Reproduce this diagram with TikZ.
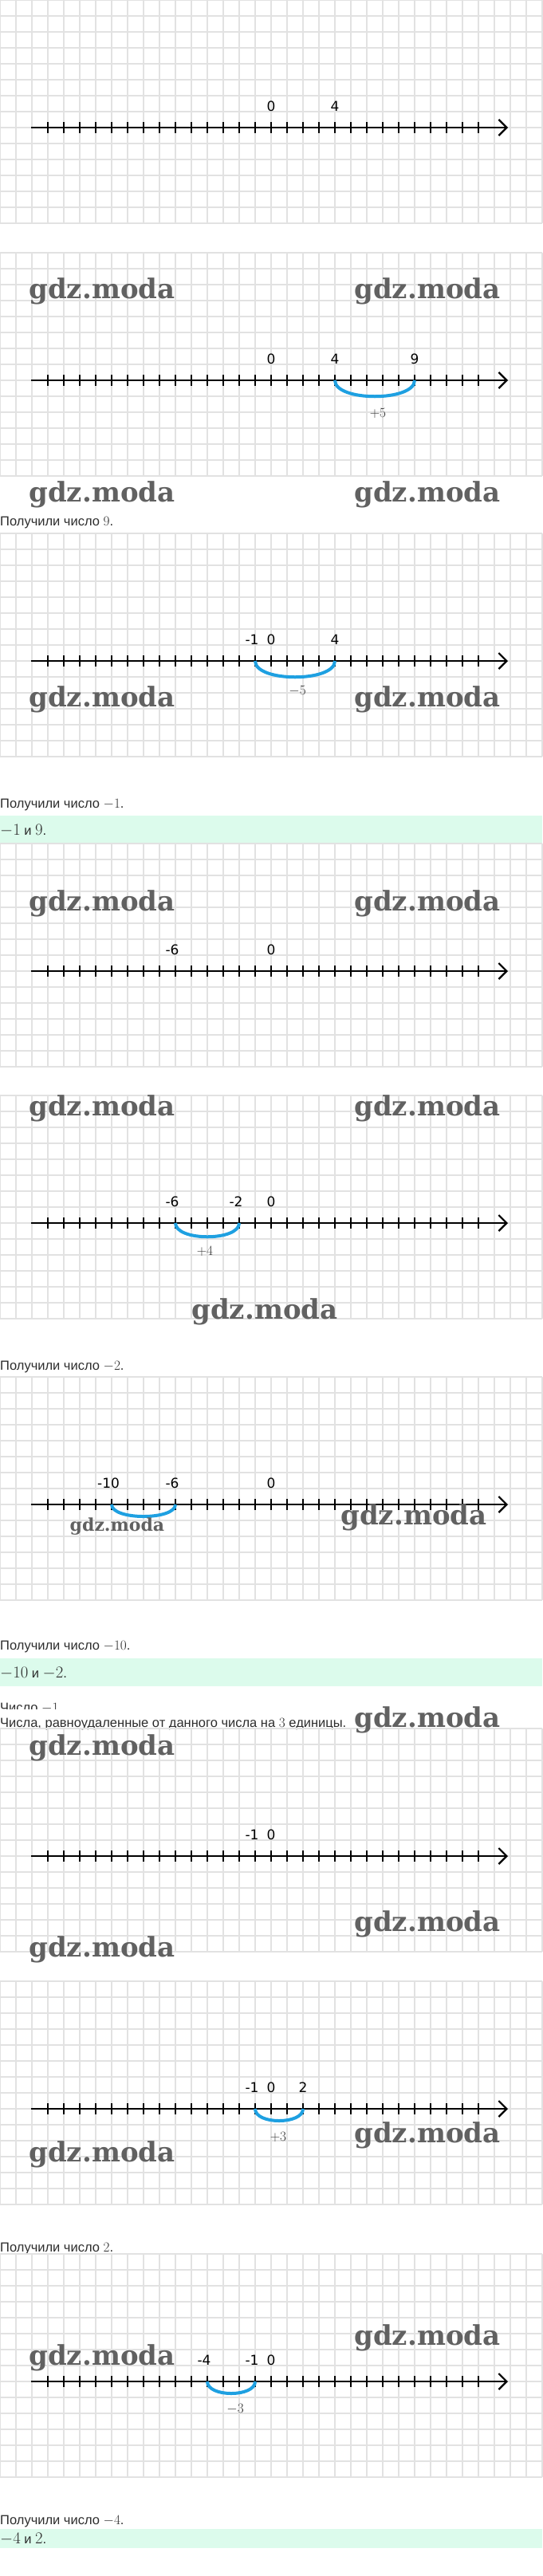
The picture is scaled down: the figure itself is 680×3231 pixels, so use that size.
\documentclass[tikz,border=0pt]{standalone}
\usepackage{fontspec}
\usetikzlibrary{arrows.meta}
\newfontfamily\rufont{Liberation Sans}
\newfontfamily\digfont{DejaVu Sans}
\newfontfamily\wmfont{DejaVu Serif}
\definecolor{grid-gray}{RGB}{226,226,226}
\definecolor{jump-blue}{RGB}{30,160,225}
\definecolor{answer-green}{RGB}{220,251,236}
\definecolor{text-gray}{RGB}{45,45,45}
\newcommand{\mnum}[1]{{\fontsize{19}{19}\selectfont$#1$}}
\newcommand{\bnum}[1]{{\fontsize{22}{22}\selectfont$#1$}}
\tikzset{
  gridline/.style={draw=grid-gray, line width=1.3pt},
  axisline/.style={line width=2.6pt, -{Straight Barb[length=10pt,width=20pt,line width=2.2pt]}},
  tickmark/.style={line width=2.2pt},
  numlabel/.style={inner sep=0pt, font=\digfont\fontsize{17}{17}\selectfont},
  neglabel/.style={numlabel, xshift=-4pt},
  jump/.style={draw=jump-blue, line width=4pt},
  steplabel/.style={inner sep=0pt, text=black!78, font=\fontsize{19}{19}\selectfont},
  infotext/.style={anchor=base west, inner sep=0pt, text=text-gray, font=\rufont\fontsize{16.5}{16.5}\selectfont},
  answerband/.style={fill=answer-green, draw=none},
  watermark/.style={inner sep=0pt, text=black!62, font=\wmfont\bfseries\fontsize{34}{34}\selectfont},
  panel/.style={shift={(340,#1)}, x=20pt}
}
% grid, axis and ticks of one panel (local units: x = one tick, y = 1pt down)
\newcommand{\numgrid}{%
  \foreach \k in {-17,...,17} \draw[gridline] (\k,-160) -- (\k,120);
  \foreach \k in {-8,...,6} \draw[gridline] (-17,20*\k) -- (17,20*\k);
  \draw[axisline] (-15.05,0) -- (14.85,0);
  \foreach \n in {-14,...,13} \draw[tickmark] (\n,-7) -- (\n,7);
}
\begin{document}
\begin{tikzpicture}[x=1pt, y=-1pt]
  \useasboundingbox (0,0) rectangle (680,3231);

  % 0 + 4
  \begin{scope}[panel=160]
    \numgrid
    \node[numlabel] (a0) at (0,-27) {0};
    \node[numlabel] (a4) at (4,-27) {4};
  \end{scope}

  % 4 + 5
  \begin{scope}[panel=477]
    \numgrid
    \node[numlabel] (b0) at (0,-27) {0};
    \node[numlabel] (b4) at (4,-27) {4};
    \node[numlabel] (b9) at (9,-27) {9};
    \coordinate (bs) at (4,0);
    \coordinate (be) at (9,0);
    \draw[jump] (bs) .. controls +(0,27) and +(0,27) .. (be);
    \node[steplabel] (bstep) at (6.7,41) {$+5$};
  \end{scope}
  \node[infotext] (got9) at (0,659) {Получили число \mnum{9}.};

  % 4 - 5
  \begin{scope}[panel=829]
    \numgrid
    \node[neglabel] (cm1) at (-1,-27) {-1};
    \node[numlabel] (c0) at (0,-27) {0};
    \node[numlabel] (c4) at (4,-27) {4};
    \coordinate (cs) at (-1,0);
    \coordinate (ce) at (4,0);
    \draw[jump] (cs) .. controls +(0,27) and +(0,27) .. (ce);
    \node[steplabel] (cstep) at (1.65,38) {$-5$};
  \end{scope}
  \node[infotext] (gotm1) at (0,1013) {Получили число \mnum{-1}.};
  \fill[answerband] (0,1023) rectangle (680,1057);
  \node[infotext] (ans1) at (0,1047) {\bnum{-1} и \bnum{9}.};

  % -6 + 4
  \begin{scope}[panel=1218]
    \numgrid
    \node[neglabel] (dm6) at (-6,-27) {-6};
    \node[numlabel] (d0) at (0,-27) {0};
  \end{scope}

  \begin{scope}[panel=1534]
    \numgrid
    \node[neglabel] (em6) at (-6,-27) {-6};
    \node[neglabel] (em2) at (-2,-27) {-2};
    \node[numlabel] (e0) at (0,-27) {0};
    \coordinate (es) at (-6,0);
    \coordinate (ee) at (-2,0);
    \draw[jump] (es) .. controls +(0,23) and +(0,23) .. (ee);
    \node[steplabel] (estep) at (-4.15,35) {$+4$};
  \end{scope}
  \node[infotext] (gotm2) at (0,1718) {Получили число \mnum{-2}.};

  % -6 - 4
  \begin{scope}[panel=1887]
    \numgrid
    \node[neglabel] (fm10) at (-10,-27) {-10};
    \node[neglabel] (fm6) at (-6,-27) {-6};
    \node[numlabel] (f0) at (0,-27) {0};
    \coordinate (fs) at (-10,0);
    \coordinate (fe) at (-6,0);
    \draw[jump] (fs) .. controls +(0,20) and +(0,20) .. (fe);
  \end{scope}
  \node[infotext] (gotm10) at (0,2069) {Получили число \mnum{-10}.};
  \fill[answerband] (0,2080) rectangle (680,2115);
  \node[infotext] (ans2) at (0,2104) {\bnum{-10} и \bnum{-2}.};

  % second task
  \begin{scope}
    \clip (0,2128) rectangle (680,2143);
    \node[infotext] (num1) at (0,2147) {Число \mnum{-1}.};
  \end{scope}
  \node[infotext] (rule3) at (0,2166) {Числа, равноудаленные от данного числа на \mnum{3} единицы.};

  \begin{scope}[panel=2328]
    \numgrid
    \node[neglabel] (gm1) at (-1,-27) {-1};
    \node[numlabel] (g0) at (0,-27) {0};
  \end{scope}

  % -1 + 3
  \begin{scope}[panel=2645]
    \numgrid
    \node[neglabel] (hm1) at (-1,-27) {-1};
    \node[numlabel] (h0) at (0,-27) {0};
    \node[numlabel] (h2) at (2,-27) {2};
    \coordinate (hs) at (-1,0);
    \coordinate (he) at (2,0);
    \draw[jump] (hs) .. controls +(0,20) and +(0,20) .. (he);
    \node[steplabel] (hstep) at (0.45,35) {$+3$};
  \end{scope}
  \node[infotext] (got2) at (0,2824) {Получили число \mnum{2}.};

  % -1 - 3
  \begin{scope}[panel=2987]
    \numgrid
    \node[neglabel] (im4) at (-4,-27) {-4};
    \node[neglabel] (im1) at (-1,-27) {-1};
    \node[numlabel] (i0) at (0,-27) {0};
    \coordinate (is) at (-4,0);
    \coordinate (ie) at (-1,0);
    \draw[jump] (is) .. controls +(0,20) and +(0,20) .. (ie);
    \node[steplabel] (istep) at (-2.25,35) {$-3$};
  \end{scope}
  \node[infotext] (gotm4) at (0,3166) {Получили число \mnum{-4}.};
  \fill[answerband] (0,3172) rectangle (680,3196);
  \node[infotext] (ans3) at (0,3190) {\bnum{-4} и \bnum{2}.};

  % watermarks on top
  \node[watermark] (wm1) at (128,365) {gdz.moda};
  \node[watermark] (wm2) at (536,365) {gdz.moda};
  \node[watermark] (wm3) at (128,620) {gdz.moda};
  \node[watermark] (wm4) at (536,620) {gdz.moda};
  \node[watermark] (wm5) at (128,877) {gdz.moda};
  \node[watermark] (wm6) at (536,877) {gdz.moda};
  \node[watermark] (wm7) at (128,1133) {gdz.moda};
  \node[watermark] (wm8) at (536,1133) {gdz.moda};
  \node[watermark] (wm9) at (128,1390) {gdz.moda};
  \node[watermark] (wm10) at (536,1390) {gdz.moda};
  \node[watermark] (wm11) at (332,1645) {gdz.moda};
  \node[watermark, font=\wmfont\bfseries\fontsize{22}{22}\selectfont] (wm12) at (147,1915) {gdz.moda};
  \node[watermark] (wm13) at (519,1903) {gdz.moda};
  \node[watermark] (wm14) at (536,2157) {gdz.moda};
  \node[watermark] (wm15) at (128,2192) {gdz.moda};
  \node[watermark] (wm16) at (536,2413) {gdz.moda};
  \node[watermark] (wm17) at (128,2445) {gdz.moda};
  \node[watermark] (wm18) at (536,2678) {gdz.moda};
  \node[watermark] (wm19) at (128,2702) {gdz.moda};
  \node[watermark] (wm20) at (536,2932) {gdz.moda};
  \node[watermark] (wm21) at (128,2957) {gdz.moda};
\end{tikzpicture}
\end{document}
